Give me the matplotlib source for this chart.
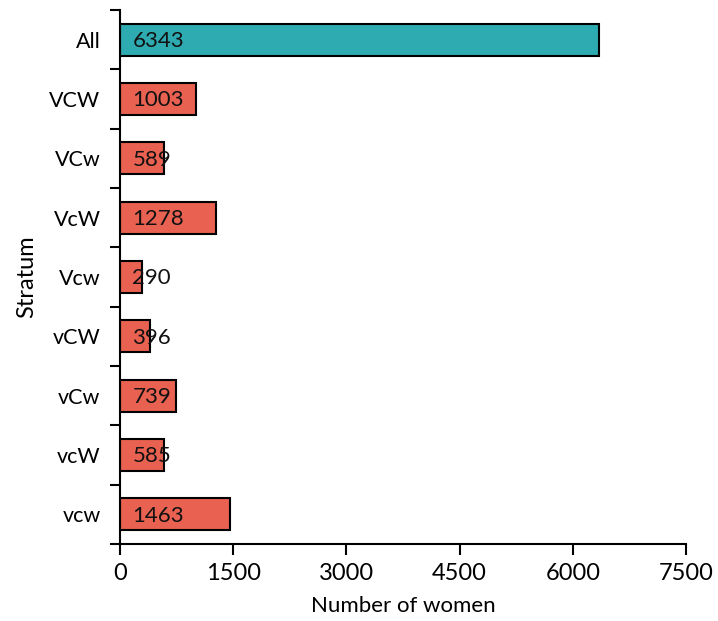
import numpy as np
import matplotlib
matplotlib.use("Agg")
from matplotlib import pyplot as plt

strata = ["vcw", "vcW", "vCw", "vCW", "Vcw", "VcW", "VCw", "VCW", "All"]
counts = [1463, 585, 739, 396, 290, 1278, 589, 1003, 6343]
xticks = [0, 1500, 3000, 4500, 6000, 7500]

plt.rcParams['font.family'] = ['Lato', 'DejaVu Sans']

fig = plt.figure(figsize=(7.18, 6.21), dpi=100)
ax = fig.add_axes([0.1671, 0.124, 0.7883, 0.860])

colors = ["#E96150"] * (len(strata) - 1) + ["#2DABB1"]
pos = np.arange(len(strata))
ax.barh(pos, counts, height=0.54, color=colors, edgecolor="black", linewidth=1.5)

for p, c in zip(pos, counts):
    ax.annotate(str(c), (0, p), xytext=(9, -1), textcoords="offset points",
                va="center", ha="left", fontsize=16, color="#111111")

ax.set_xlim(0, 7500)
ax.set_ylim(-0.5, len(strata) - 0.5)
ax.set_xticks(xticks)
ax.set_xticklabels([str(t) for t in xticks], fontsize=17)

# category labels centred, tick marks on the boundaries
ax.set_yticks(pos)
ax.set_yticklabels(strata, fontsize=15.5)
ax.tick_params(axis="y", which="major", length=0, pad=14)
ax.set_yticks(np.arange(-0.5, len(strata)), minor=True)
ax.tick_params(axis="y", which="minor", length=7, width=1.5, direction="out")
ax.tick_params(axis="x", length=8, width=1.5, pad=6)

for s in ["top", "right"]:
    ax.spines[s].set_visible(False)
for s in ["left", "bottom"]:
    ax.spines[s].set_linewidth(1.5)

ax.set_xlabel("Number of women", fontsize=16, labelpad=8)
ax.set_ylabel("Stratum", fontsize=17, labelpad=9)

fig.savefig("out.png", dpi=100)
